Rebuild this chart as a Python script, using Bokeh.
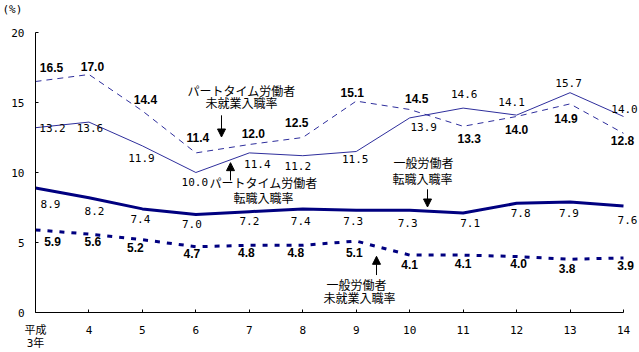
from bokeh.plotting import figure
from bokeh.models import Range1d, FixedTicker, Arrow, NormalHead, ColumnDataSource
from bokeh.core.properties import value
from bokeh.embed import file_html
from bokeh.resources import INLINE

# ---------------- data ----------------
years = [3, 4, 5, 6, 7, 8, 9, 10, 11, 12, 13, 14]
year_labels = ["平成\n3年", "4", "5", "6", "7", "8", "9", "10", "11", "12", "13", "14"]
y_ticks = [0, 5, 10, 15, 20]

pt_new = [16.5, 17.0, 14.4, 11.4, 12.0, 12.5, 15.1, 14.5, 13.3, 14.0, 14.9, 12.8]      # パートタイム労働者 未就業入職率
pt_change = [13.2, 13.6, 11.9, 10.0, 11.4, 11.2, 11.5, 13.9, 14.6, 14.1, 15.7, 14.0]   # パートタイム労働者 転職入職率
gen_change = [8.9, 8.2, 7.4, 7.0, 7.2, 7.4, 7.3, 7.3, 7.1, 7.8, 7.9, 7.6]              # 一般労働者 転職入職率
gen_new = [5.9, 5.6, 5.2, 4.7, 4.8, 4.8, 5.1, 4.1, 4.1, 4.0, 3.8, 3.9]                 # 一般労働者 未就業入職率

# ---------------- layout (label offsets in screen px) ----------------
pt_new_off = [(16, -14), (3.5, -7.6), (3, -11.5), (2, -15), (4, -10.6), (-6, -15.5),
              (-4, -8.6), (7, -11.5), (6, 12), (0, 13), (-4, 14.6), (-1, 7)]
pt_change_off = [(17, 0), (1, 6), (-1, 12), (-1, 9), (8, 11), (-5, 10),
                 (-1, 7), (14, 9.5), (1, -14), (-5, -13), (-1.5, -10), (1, -8)]
gen_change_off = [(15, 16), (5.5, 13.4), (-2, 10), (-4, 9.4), (0, 9), (-2, 12),
                  (-3, 11), (-2, 13), (7, 10), (4, 10), (-1, 11), (4, 14)]
gen_new_off = [(17, 12), (4, 7.5), (-7, 8), (-4, 7), (-3, 7), (-7, 7),
               (-2, 11), (0, 9), (0, 8), (2, 7), (-3, 9), (2, 8)]

THIN = "#2e2e9c"
THICK = "#000080"
NUM_FONT = "DejaVu Sans Mono"
BOLD_FONT = "Liberation Sans"
JP_FONT = "Noto Sans CJK JP"

PX_X = 588.0 / 11   # px per year
PX_Y = 284.0 / 20   # px per percent

# frame spans x 35..639 and y 31..315 of the page; x axis is bounded to the data span
p = figure(width=639, height=352, output_backend="svg", toolbar_location=None,
           x_range=Range1d(3, 3 + 604 / PX_X), y_range=Range1d(0, 20),
           min_border_left=35, min_border_right=0, min_border_top=31, min_border_bottom=37)
p.outline_line_color = None
p.xgrid.visible = False
p.ygrid.visible = False
p.background_fill_color = "white"
p.border_fill_color = "white"

# unit label as title (a blank second line lifts it to the top of the border)
p.title.text = "(%)\n "
p.title.align = "left"
p.title.vertical_align = "top"
p.title.offset = -33
p.title.standoff = 4
p.title.text_line_height = 1.0
p.title.text_font = NUM_FONT
p.title.text_font_size = "11px"
p.title.text_font_style = "normal"
p.title.text_color = "black"

# axes
p.xaxis.ticker = FixedTicker(ticks=years)
p.xaxis.bounds = (years[0], years[-1])
p.xaxis.major_label_overrides = {y: l for y, l in zip(years, year_labels)}
p.yaxis.ticker = FixedTicker(ticks=y_ticks)
for ax in (p.xaxis, p.yaxis):
    ax.axis_line_color = "black"
    ax.axis_line_width = 1
    ax.major_tick_in = 3
    ax.major_tick_out = 0
    ax.minor_tick_line_color = None
    ax.major_tick_line_color = "black"
    ax.major_label_text_color = "black"
p.xaxis.major_label_text_font = "DejaVu Sans Mono, Noto Sans CJK JP"
p.xaxis.major_label_text_font_size = "11px"
p.xaxis.major_label_text_line_height = 1.0
p.xaxis.major_label_standoff = 11
p.yaxis.major_label_text_font = NUM_FONT
p.yaxis.major_label_text_font_size = "11px"
p.yaxis.major_label_standoff = 11

# lines
p.line(years, pt_new, line_color=THIN, line_width=1, line_dash="6 5")
p.line(years, pt_change, line_color=THIN, line_width=1)
p.line(years, gen_change, line_color=THICK, line_width=3)
p.line(years, gen_new, line_color=THICK, line_width=3, line_dash="5 7")


def add_labels(vals, offs, bold):
    src = ColumnDataSource(dict(
        x=years, y=vals, t=[f"{v:.1f}" for v in vals],
        dx=[o[0] for o in offs], dy=[o[1] for o in offs]))
    p.text(x="x", y="y", text="t", x_offset="dx", y_offset="dy", source=src,
           text_align="center", text_baseline="middle", text_color="black",
           text_font=value(BOLD_FONT if bold else NUM_FONT),
           text_font_size="12px" if bold else "11px",
           text_font_style="bold" if bold else "normal")


add_labels(pt_new, pt_new_off, True)
add_labels(pt_change, pt_change_off, False)
add_labels(gen_change, gen_change_off, False)
add_labels(gen_new, gen_new_off, True)


# annotations (positions given in screen px of the page, converted to data units)
def sx(px):
    return 3 + (px - 35) / PX_X


def sy(py):
    return (315 - py) / PX_Y


anno = [
    ("パートタイム労働者", 241, 90), ("未就業入職率", 241, 102),
    ("パートタイム労働者", 263, 183), ("転職入職率", 263, 198),
    ("一般労働者", 423, 163), ("転職入職率", 422, 179),
    ("一般労働者", 356, 287), ("未就業入職率", 359, 300),
]
asrc = ColumnDataSource(dict(x=[sx(a[1]) for a in anno], y=[sy(a[2]) for a in anno],
                             t=[a[0] for a in anno]))
p.text(x="x", y="y", text="t", source=asrc, text_align="center", text_baseline="middle",
       text_color="black", text_font=value(JP_FONT), text_font_size="12px")

arrows = [(221, 115, 221, 137), (230, 181, 230, 163), (427, 190, 427, 208), (376, 277, 376, 258)]
for x0, y0, x1, y1 in arrows:
    p.add_layout(Arrow(x_start=sx(x0), y_start=sy(y0), x_end=sx(x1), y_end=sy(y1),
                       line_color="black", line_width=1,
                       end=NormalHead(size=8, fill_color="black", line_color="black", line_width=1)))

open("out.html", "w").write(file_html(p, INLINE))
